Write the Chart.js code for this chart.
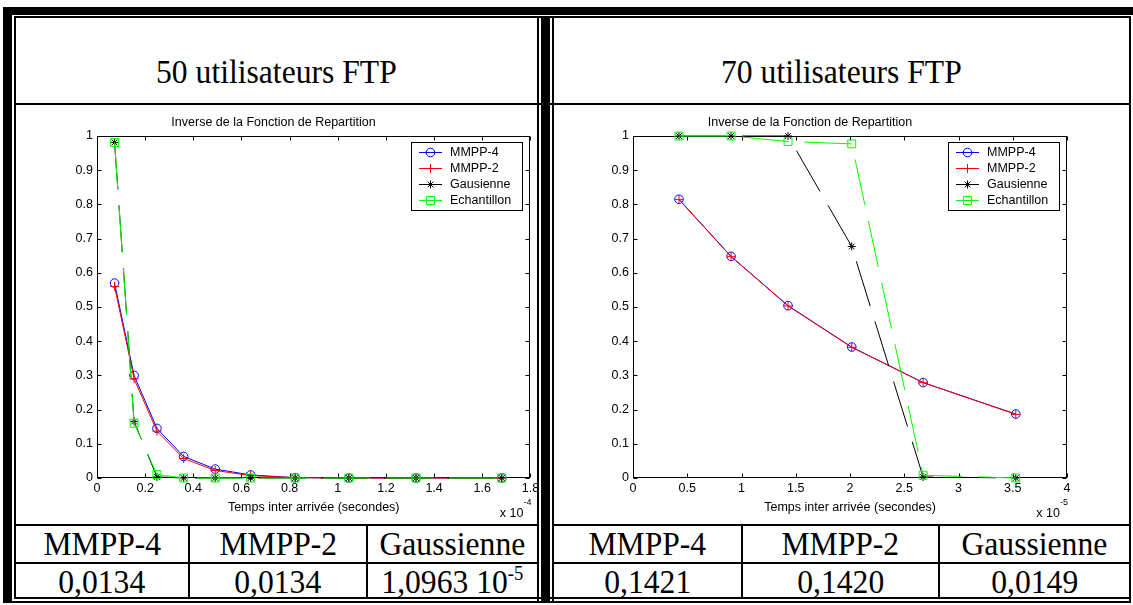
<!DOCTYPE html>
<html lang="fr">
<head>
<meta charset="utf-8">
<title>Inverse de la Fonction de Repartition</title>
<script src="https://cdn.jsdelivr.net/npm/chart.js@4.4.1/dist/chart.umd.min.js"></script>
<style>
  html, body { margin: 0; padding: 0; background: #fff; }
  body { position: relative; width: 1133px; height: 605px; overflow: hidden; }
  .rule { position: absolute; background: #000; }
  .cell { position: absolute; text-align: center; white-space: nowrap;
          font-family: 'Liberation Serif', 'Times New Roman', serif; font-size: 34px;
          line-height: 40px; height: 40px; color: #000; }
  .cell span { display: inline-block; transform: scaleX(0.93); transform-origin: center; }
  .cell sup { font-size: 20px; vertical-align: 13px; line-height: 0; }
  canvas { position: absolute; }
</style>
</head>
<body>
<!-- outer frame -->
<div class="rule" style="left:3px;top:7px;width:1130px;height:8px"></div>
<div class="rule" style="left:3px;top:7px;width:9px;height:596px"></div>
<div class="rule" style="left:14px;top:16px;width:1117px;height:2px"></div>
<div class="rule" style="left:14px;top:16px;width:2px;height:583px"></div>
<div class="rule" style="left:1129px;top:16px;width:2px;height:587px"></div>
<div class="rule" style="left:14px;top:597px;width:1117px;height:2px"></div>
<div class="rule" style="left:3px;top:601px;width:1128px;height:2px"></div>
<!-- title row -->
<div class="rule" style="left:14px;top:103px;width:1117px;height:2px"></div>
<!-- central double divider -->
<div class="rule" style="left:537px;top:16px;width:2px;height:587px"></div>
<div class="rule" style="left:541px;top:16px;width:9px;height:587px"></div>
<div class="rule" style="left:552px;top:16px;width:2px;height:587px"></div>
<!-- result rows -->
<div class="rule" style="left:14px;top:524px;width:523px;height:2px"></div>
<div class="rule" style="left:14px;top:562px;width:523px;height:2px"></div>
<div class="rule" style="left:552px;top:524px;width:579px;height:2px"></div>
<div class="rule" style="left:552px;top:562px;width:579px;height:2px"></div>
<div class="rule" style="left:188px;top:524px;width:2px;height:75px"></div>
<div class="rule" style="left:366px;top:524px;width:2px;height:75px"></div>
<div class="rule" style="left:741px;top:524px;width:2px;height:75px"></div>
<div class="rule" style="left:938px;top:524px;width:2px;height:75px"></div>

<canvas id="c50" width="521" height="418" style="left:16px;top:105px"></canvas>
<canvas id="c70" width="577" height="418" style="left:553px;top:105px"></canvas>

<script>
// ---- 50 utilisateurs FTP : temps inter-arrivée en unités de 1e-4 s ----
const temps50   = [0.073, 0.154, 0.249, 0.360, 0.491, 0.638, 0.823, 1.046, 1.325, 1.681];
const mmpp4_50  = [0.570, 0.300, 0.145, 0.063, 0.026, 0.009, 0.001, 0, 0, 0];
const mmpp2_50  = [0.560, 0.290, 0.137, 0.057, 0.022, 0.007, 0.001, 0, 0, 0];
const gauss_50  = [0.981, 0.165, 0.003, 0, 0, 0, 0, 0, 0, 0];
const echant_50 = [0.981, 0.160, 0.010, 0, 0, 0, 0, 0, 0, 0];

// ---- 70 utilisateurs FTP : temps inter-arrivée en unités de 1e-5 s ----
const temps70   = [0.424, 0.904, 1.429, 2.016, 2.674, 3.528];
const mmpp4_70  = [0.815, 0.648, 0.504, 0.383, 0.279, 0.187];
const mmpp2_70  = [0.814, 0.647, 0.503, 0.382, 0.279, 0.186];
const gauss_70  = [1.000, 1.000, 1.000, 0.677, 0.003, 0];
const echant_70 = [1.000, 1.000, 0.984, 0.977, 0.008, 0];

// Graduations
const yTicks   = [0, 0.1, 0.2, 0.3, 0.4, 0.5, 0.6, 0.7, 0.8, 0.9, 1];
const xTicks50 = [0, 0.2, 0.4, 0.6, 0.8, 1, 1.2, 1.4, 1.6, 1.8];
const xTicks70 = [0, 0.5, 1, 1.5, 2, 2.5, 3, 3.5, 4];

// Séries (légende)
const seriesNames = ['MMPP-4', 'MMPP-2', 'Gausienne', 'Echantillon'];

// Tableau des écarts
const modelNames = ['MMPP-4', 'MMPP-2', 'Gaussienne'];
const ecart50 = ['0,0134', '0,0134', '1,0963 10^-5'];
const ecart70 = ['0,1421', '0,1420', '0,0149'];
const panelTitles = ['50 utilisateurs FTP', '70 utilisateurs FTP'];

// ---- styles ----
const seriesColors  = ['#0000ff', '#ff0000', '#000000', '#00ff00'];
const seriesMarkers = ['circle', 'cross', 'star', 'rect'];
const markerRadius  = [4.3, 4.5, 4, 5.6];
const seriesDash    = [[], [], [47, 16], [47, 16]];
const FONT = '"Liberation Sans", Arial, Helvetica, sans-serif';

Chart.defaults.font.family = FONT;
Chart.defaults.font.size = 12.5;
Chart.defaults.color = '#000';

function drawMarker(ctx, style, x, y, r) {
  if (Chart.helpers && Chart.helpers.drawPoint) {
    Chart.helpers.drawPoint(ctx, {pointStyle: style, radius: r, rotation: 0, borderWidth: 1}, x, y);
    return;
  }
  ctx.beginPath();
  if (style === 'circle') ctx.arc(x, y, r, 0, Math.PI * 2);
  else if (style === 'rect') { const s = r * Math.SQRT1_2; ctx.rect(x - s, y - s, 2 * s, 2 * s); }
  else {
    ctx.moveTo(x - r, y); ctx.lineTo(x + r, y); ctx.moveTo(x, y - r); ctx.lineTo(x, y + r);
    if (style === 'star') {
      const d = r * Math.SQRT1_2;
      ctx.moveTo(x - d, y - d); ctx.lineTo(x + d, y + d);
      ctx.moveTo(x - d, y + d); ctx.lineTo(x + d, y - d);
    }
  }
  ctx.stroke();
}

// Cadre fermé des axes avec graduations tournées vers l'intérieur
const boxAxes = {
  id: 'boxAxes',
  beforeDatasetsDraw(chart) {
    const {ctx, chartArea: a, scales} = chart;
    const L = Math.round(a.left) + 0.5, R = Math.round(a.right) - 0.5;
    const T = Math.round(a.top) + 0.5, B = Math.round(a.bottom) - 0.5;
    const len = 4;
    ctx.save();
    ctx.strokeStyle = '#000';
    ctx.lineWidth = 1;
    ctx.strokeRect(L, T, R - L, B - T);
    ctx.beginPath();
    scales.x.ticks.forEach(t => {
      const px = Math.round(scales.x.getPixelForValue(t.value)) + 0.5;
      ctx.moveTo(px, B); ctx.lineTo(px, B - len);
      ctx.moveTo(px, T); ctx.lineTo(px, T + len);
    });
    scales.y.ticks.forEach(t => {
      const py = Math.round(scales.y.getPixelForValue(t.value)) + 0.5;
      ctx.moveTo(L, py); ctx.lineTo(L + len, py);
      ctx.moveTo(R, py); ctx.lineTo(R - len, py);
    });
    ctx.stroke();
    ctx.restore();
  }
};

// Légende encadrée en haut à droite du cadre
const boxLegend = {
  id: 'boxLegend',
  afterDatasetsDraw(chart) {
    const {ctx, chartArea: a} = chart;
    const w = 112, h = 69;
    const left = Math.round(a.right) - 7 - w, top = Math.round(a.top) + 6;
    ctx.save();
    ctx.fillStyle = '#fff';
    ctx.fillRect(left, top, w, h);
    ctx.strokeStyle = '#000';
    ctx.lineWidth = 1;
    ctx.strokeRect(left + 0.5, top + 0.5, w - 1, h - 1);
    ctx.font = '12.5px ' + FONT;
    ctx.textBaseline = 'middle';
    ctx.textAlign = 'left';
    chart.data.datasets.forEach((ds, i) => {
      const y = top + 10.5 + i * 16;
      ctx.strokeStyle = ds.borderColor;
      ctx.lineWidth = 1;
      ctx.setLineDash([]);
      ctx.beginPath();
      ctx.moveTo(left + 8, y); ctx.lineTo(left + 31, y);
      ctx.stroke();
      ctx.fillStyle = 'rgba(0,0,0,0)';
      drawMarker(ctx, ds.pointStyle, left + 19.5, y, ds.pointRadius);
      ctx.fillStyle = '#000';
      ctx.fillText(ds.label, left + 39, y + 0.5);
    });
    ctx.restore();
  }
};

// Facteur d'échelle de l'axe des abscisses (x 10^n), sous le coin droit du cadre
const axisExponent = {
  id: 'axisExponent',
  afterDraw(chart, args, opts) {
    const {ctx, chartArea: a} = chart;
    ctx.save();
    ctx.fillStyle = '#000';
    ctx.textAlign = 'right';
    ctx.textBaseline = 'alphabetic';
    const right = a.right + 1;
    ctx.font = '9px ' + FONT;
    const supW = ctx.measureText(opts.power).width;
    ctx.fillText(opts.power, right, a.bottom + 27);
    ctx.font = '12.5px ' + FONT;
    ctx.fillText('x 10', right - supW, a.bottom + 39);
    ctx.restore();
  }
};

function makeChart(id, xs, values, xTicks, power, yAxisWidth, padRight) {
  const datasets = values.map((vals, i) => ({
    label: seriesNames[i],
    data: xs.map((x, k) => ({x: x, y: vals[k]})),
    borderColor: seriesColors[i],
    backgroundColor: 'rgba(0,0,0,0)',
    pointBorderColor: seriesColors[i],
    pointBackgroundColor: 'rgba(0,0,0,0)',
    borderWidth: 1,
    pointBorderWidth: 1,
    pointStyle: seriesMarkers[i],
    pointRadius: markerRadius[i],
    pointHoverRadius: markerRadius[i],
    borderDash: seriesDash[i],
    tension: 0,
    fill: false,
    clip: false,
    order: values.length - 1 - i
  }));
  return new Chart(document.getElementById(id), {
    type: 'line',
    data: {datasets},
    plugins: [boxAxes, boxLegend, axisExponent],
    options: {
      responsive: false,
      animation: false,
      devicePixelRatio: 1,
      events: [],
      layout: {padding: {left: 0, right: padRight, top: 0, bottom: 0}},
      plugins: {
        legend: {display: false},
        tooltip: {enabled: false},
        title: {
          display: true,
          text: 'Inverse de la Fonction de Repartition',
          color: '#000',
          font: {size: 12.5, weight: 'normal', lineHeight: '14px'},
          padding: {top: 11, bottom: 6}
        },
        axisExponent: {power: power}
      },
      scales: {
        x: {
          type: 'linear',
          min: xTicks[0],
          max: xTicks[xTicks.length - 1],
          afterBuildTicks: s => { s.ticks = xTicks.map(v => ({value: v})); },
          afterFit: s => { s.height = 45; s.paddingLeft = 0; s.paddingRight = 0; },
          grid: {display: false, drawTicks: false},
          border: {display: false},
          ticks: {color: '#000', padding: 3, maxRotation: 0, autoSkip: false, callback: v => String(v)},
          title: {display: true, text: 'Temps inter arrivée (secondes)', color: '#000',
                  font: {size: 12.5}, padding: {top: 0, bottom: 8}}
        },
        y: {
          type: 'linear',
          min: 0,
          max: 1,
          afterBuildTicks: s => { s.ticks = yTicks.map(v => ({value: v})); },
          afterFit: s => { s.width = yAxisWidth; s.paddingTop = 0; s.paddingBottom = 0; },
          grid: {display: false, drawTicks: false},
          border: {display: false},
          ticks: {color: '#000', padding: 4, autoSkip: false, callback: v => String(v)}
        }
      }
    }
  });
}

makeChart('c50', temps50, [mmpp4_50, mmpp2_50, gauss_50, echant_50], xTicks50, '-4', 81, 6);
makeChart('c70', temps70, [mmpp4_70, mmpp2_70, gauss_70, echant_70], xTicks70, '-5', 80, 63);

// ---- texte du tableau ----
function cell(left, right, top, text) {
  const d = document.createElement('div');
  d.className = 'cell';
  d.style.left = left + 'px';
  d.style.width = (right - left) + 'px';
  d.style.top = top + 'px';
  const span = document.createElement('span');
  const parts = text.split('^');
  span.textContent = parts[0];
  if (parts[1]) {
    const sup = document.createElement('sup');
    sup.textContent = parts[1];
    span.appendChild(sup);
  }
  d.appendChild(span);
  document.body.appendChild(d);
}
const panels = [
  {left: 16, right: 537, cols: [[16, 188], [190, 366], [368, 537]], values: ecart50},
  {left: 554, right: 1129, cols: [[554, 741], [743, 938], [940, 1129]], values: ecart70}
];
panels.forEach((p, i) => {
  cell(p.left, p.right, 52, panelTitles[i]);
  p.cols.forEach((c, j) => {
    cell(c[0], c[1], 524, modelNames[j]);
    cell(c[0], c[1], 562, p.values[j]);
  });
});
</script>
</body>
</html>
